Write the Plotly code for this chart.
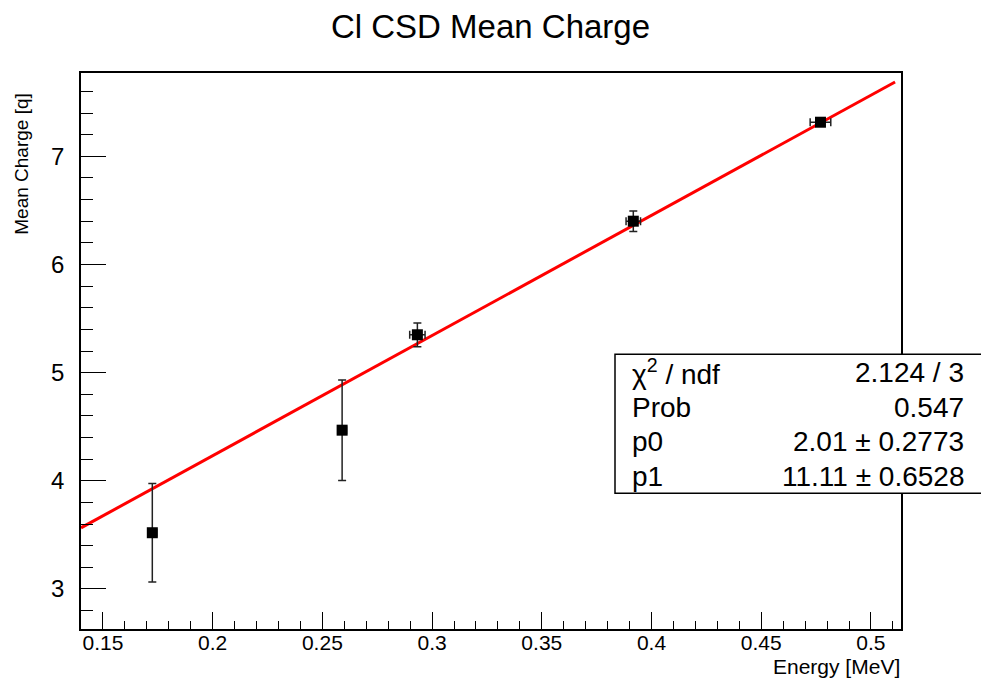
import plotly.graph_objects as go

# Data
energy = [0.1725, 0.259, 0.2933, 0.3917, 0.477]
energy_err = [0.002, 0.002, 0.0035, 0.0033, 0.0047]
charge = [3.52, 4.468, 5.35, 6.40, 7.315]
charge_err = [0.455, 0.465, 0.11, 0.095, 0.03]

# Fit results shown in the stats box
p0, p0_err = 2.01, 0.2773
p1, p1_err = 11.11, 0.6528
chi2_text, prob_text = "2.124 / 3", "0.547"
fit_x = [0.14, 0.511]
fit_y = [p0 + p1 * x for x in fit_x]

FONT = "Liberation Sans, Arial, Helvetica, sans-serif"

fig = go.Figure()
fig.add_trace(go.Scatter(
    x=fit_x, y=fit_y, mode="lines",
    line=dict(color="#ff0000", width=3), showlegend=False, hoverinfo="skip"))
fig.add_trace(go.Scatter(
    x=energy, y=charge, mode="markers",
    marker=dict(symbol="square", size=11, color="black"),
    error_x=dict(type="data", array=energy_err, color="#222222", thickness=1.5, width=4),
    error_y=dict(type="data", array=charge_err, color="#222222", thickness=1.5, width=4),
    showlegend=False))

fig.update_layout(
    width=981, height=686, autosize=False,
    margin=dict(l=81, r=80, t=73, b=57, pad=0),
    paper_bgcolor="white", plot_bgcolor="white",
    font=dict(family=FONT, color="black"),
    title=dict(text="Cl CSD Mean Charge", x=0.5, xanchor="center",
               y=1 - 26 / 686, yanchor="middle", font=dict(size=33, family=FONT)),
    xaxis=dict(range=[0.14, 0.5137], showgrid=False, zeroline=False,
               showline=True, linecolor="black", linewidth=1.5, mirror=True,
               ticks="inside", ticklen=17, tickwidth=1.2, tickcolor="black",
               tick0=0.15, dtick=0.05, ticklabelstandoff=-6,
               tickfont=dict(size=21, family=FONT),
               minor=dict(ticks="inside", ticklen=8.5, dtick=0.01, tick0=0.15,
                          tickcolor="black", tickwidth=1.2, showgrid=False)),
    yaxis=dict(range=[2.63, 7.77], showgrid=False, zeroline=False,
               showline=True, linecolor="black", linewidth=1.5, mirror=True,
               ticks="inside", ticklen=25, tickwidth=1.2, tickcolor="black",
               tick0=3, dtick=1, ticklabelstandoff=10,
               tickfont=dict(size=24, family=FONT),
               minor=dict(ticks="inside", ticklen=12.5, dtick=0.2, tick0=3,
                          tickcolor="black", tickwidth=1.2, showgrid=False)),
)

# Axis titles
fig.add_annotation(text="Energy [MeV]", xref="paper", yref="paper",
                   x=(902 - 81) / 820, y=(629 - 667) / 556.3, xanchor="right", yanchor="middle",
                   showarrow=False, font=dict(size=21, family=FONT))
fig.add_annotation(text="Mean Charge [q]", xref="paper", yref="paper",
                   x=(22 - 81) / 820, y=(629 - 163.5) / 556.3, textangle=-90,
                   xanchor="center", yanchor="middle",
                   showarrow=False, font=dict(size=19, family=FONT))

# Stats box
fig.add_shape(type="rect", xref="paper", yref="paper",
              x0=(615 - 81) / 820, x1=(985 - 81) / 820,
              y0=(629 - 493.3) / 556.3, y1=(629 - 354) / 556.3,
              fillcolor="white", line=dict(color="black", width=1.5), layer="above")

labels = ["χ<sup>2</sup> / ndf", "Prob", "p0", "p1"]
values = [chi2_text, prob_text, f"{p0:g} ± {p0_err:g}", f"{p1:g} ± {p1_err:g}"]
row_y = [372, 407, 441, 476]
for lab, val, yy in zip(labels, values, row_y):
    yp = (629 - yy) / 556.3
    fig.add_annotation(text=lab, xref="paper", yref="paper", x=(630 - 81) / 820, y=yp,
                       xanchor="left", yanchor="middle", showarrow=False,
                       font=dict(size=28, family=FONT))
    fig.add_annotation(text=val, xref="paper", yref="paper", x=(966 - 81) / 820, y=yp,
                       xanchor="right", yanchor="middle", showarrow=False,
                       font=dict(size=28, family=FONT))

fig.write_html("out.html")
